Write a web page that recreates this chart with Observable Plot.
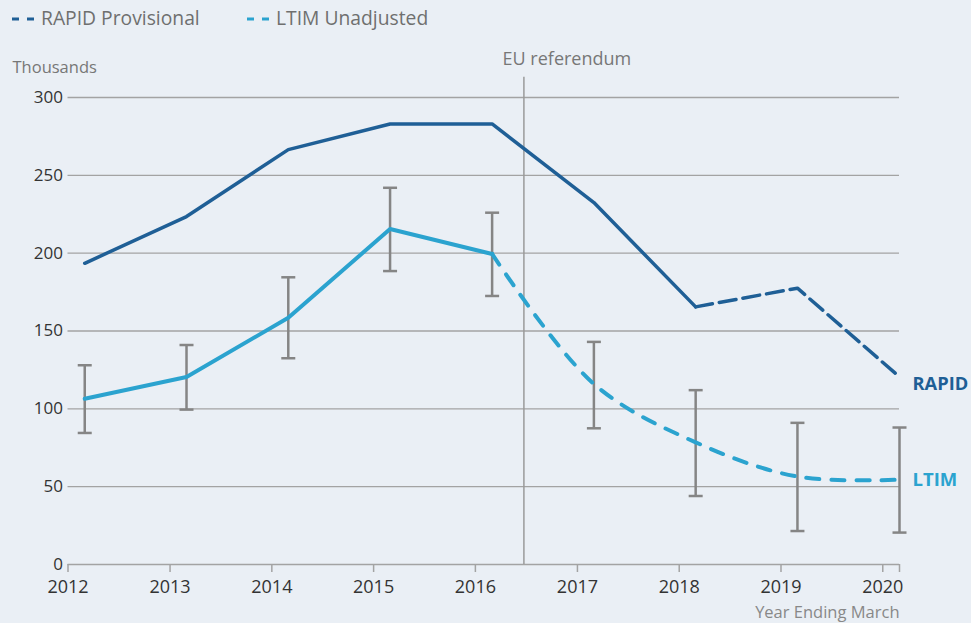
<!DOCTYPE html>
<html><head><meta charset="utf-8">
<script src="https://cdn.jsdelivr.net/npm/d3@7"></script>
<script src="https://cdn.jsdelivr.net/npm/@observablehq/plot@0.6"></script>
<style>
html,body{margin:0;padding:0;background:#eaeff5;}
body{width:971px;height:623px;overflow:hidden;font-family:"Open Sans",sans-serif;}
#legend{position:relative;height:36px;font-size:19.3px;color:#6f6f6f;}
#legend .item{position:absolute;top:4px;display:flex;align-items:center;white-space:nowrap;}
#legend svg{margin-right:7px;}
#chart svg{display:block;background:transparent;}
</style></head><body>
<div id="legend"></div>
<div id="chart"></div>
<script>
// ---- data ----
const years = [2012, 2013, 2014, 2015, 2016, 2017, 2018, 2019, 2020];
const rapid = [193.5, 223.5, 266.5, 283, 283, 232.5, 165.5, 177.5, 120.5];
const ltim = [106.5, 120.5, 158.5, 215.5, 199.5, 116, 78.5, 56.5, 54.5];
const ltimLower = [84.5, 99.5, 132.5, 188.5, 172.5, 87.5, 44, 21.5, 20.5];
const ltimUpper = [128, 141, 184.5, 242, 226, 143, 112, 91, 88];
const rapidProvisionalFrom = 2018;
const ltimUnadjustedFrom = 2016;
const yTicks = [0, 50, 100, 150, 200, 250, 300];
const referendum = {date: new Date(Date.UTC(2016, 5, 23)), label: "EU referendum"};
const legendItems = [
  {label: "RAPID Provisional", color: "#1f5f96", left: 12},
  {label: "LTIM Unadjusted", color: "#2ba3cf", left: 247}
];

const RAPID_COLOR = "#1f5f96";
const LTIM_COLOR = "#2ba3cf";
const monthOf = (y) => new Date(Date.UTC(y, 2, 1)); // year ending March

// ---- legend ----
const leg = document.getElementById("legend");
for (const it of legendItems) {
  const div = document.createElement("div");
  div.className = "item";
  div.style.left = it.left + "px";
  div.innerHTML = `<svg width="22" height="26"><line x1="0" y1="14" x2="22" y2="14" stroke="${it.color}" stroke-width="3" stroke-dasharray="7,8"/></svg><span>${it.label}</span>`;
  leg.appendChild(div);
}

// ---- build tables ----
const rows = years.map((y, i) => ({year: y, date: monthOf(y), rapid: rapid[i], ltim: ltim[i], lo: ltimLower[i], hi: ltimUpper[i]}));
const rapidSolid = rows.filter(d => d.year <= rapidProvisionalFrom);
const rapidDash = rows.filter(d => d.year >= rapidProvisionalFrom);
const ltimSolid = rows.filter(d => d.year <= ltimUnadjustedFrom);
const ltimDash = rows.filter(d => d.year >= ltimUnadjustedFrom);
const last = rows[rows.length - 1];

const xStart = new Date(Date.UTC(years[0], 0, 1));
const xEnd = monthOf(years[years.length - 1]);
const xTicks = years.map(y => new Date(Date.UTC(y, 0, 1))).concat([xEnd]);

const capSymbol = {draw(ctx) { ctx.moveTo(-7, 0); ctx.lineTo(7, 0); }};
const grey = "#a3a3a3";

const chart = Plot.plot({
  width: 971,
  height: 587,
  marginTop: 61,
  marginBottom: 59,
  marginLeft: 67.5,
  marginRight: 72,
  style: {background: "transparent", color: "#333", fontFamily: "Open Sans, sans-serif", fontSize: "17px"},
  x: {type: "utc", domain: [xStart, xEnd]},
  y: {domain: [0, 300]},
  marks: [
    Plot.ruleY(yTicks.filter(t => t > 0), {stroke: grey, strokeWidth: 1.3}),
    Plot.ruleY([0], {stroke: grey, strokeWidth: 1.6}),
    Plot.axisY({ticks: yTicks, tickSize: 0, tickPadding: 5, label: null, fontSize: 17}),
    Plot.axisX({ticks: xTicks, tickSize: 8, tickPadding: 8, stroke: grey, strokeWidth: 1.5, label: null, fontSize: 18,
      tickFormat: d => d.getUTCMonth() === 0 ? d3.utcFormat("%Y")(d) : ""}),
    Plot.ruleX([referendum], {x: "date", y1: 0, y2: 313, stroke: "#9a9a9a", strokeWidth: 1.5}),
    Plot.text([referendum], {x: "date", text: "label", frameAnchor: "top", dy: -45, dx: 43, fill: "#777", fontSize: 18}),
    Plot.text(["Thousands"], {text: d => d, frameAnchor: "top-left", dx: -55.5, dy: -36, textAnchor: "start", fill: "#777", fontSize: 16.5}),
    Plot.text(["Year Ending March"], {text: d => d, frameAnchor: "bottom-right", dy: 53, textAnchor: "end", fill: "#888", fontSize: 16.5}),
    // error bars
    Plot.ruleX(rows, {x: "date", y1: "lo", y2: "hi", stroke: "#858585", strokeWidth: 2.5}),
    Plot.dot(rows, {x: "date", y: "lo", symbol: capSymbol, stroke: "#858585", strokeWidth: 2.5, fill: "none"}),
    Plot.dot(rows, {x: "date", y: "hi", symbol: capSymbol, stroke: "#858585", strokeWidth: 2.5, fill: "none"}),
    // lines
    Plot.line(rapidSolid, {x: "date", y: "rapid", stroke: RAPID_COLOR, strokeWidth: 3.5}),
    Plot.line(rapidDash, {x: "date", y: "rapid", stroke: RAPID_COLOR, strokeWidth: 3.5, strokeDasharray: "17,7"}),
    Plot.line(ltimSolid, {x: "date", y: "ltim", stroke: LTIM_COLOR, strokeWidth: 4}),
    Plot.line(ltimDash, {x: "date", y: "ltim", stroke: LTIM_COLOR, strokeWidth: 4, curve: "catmull-rom", strokeDasharray: "13,12"}),
    // end labels
    Plot.text([last], {x: "date", y: "rapid", text: () => "RAPID", dx: 13, dy: 7, textAnchor: "start", fill: RAPID_COLOR, fontWeight: "bold", fontSize: 18.3}),
    Plot.text([last], {x: "date", y: "ltim", text: () => "LTIM", dx: 13, dy: 0, textAnchor: "start", fill: LTIM_COLOR, fontWeight: "bold", fontSize: 18.5})
  ]
});
document.getElementById("chart").appendChild(chart);
</script>
</body></html>
